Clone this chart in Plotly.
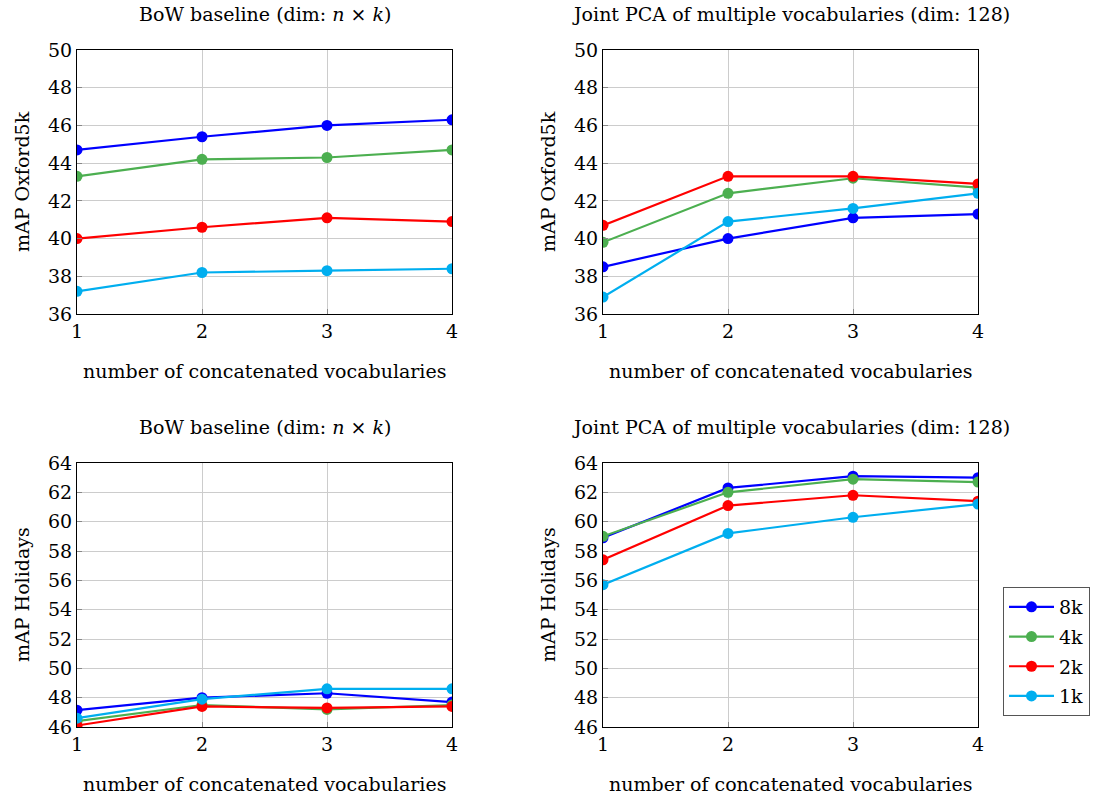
import plotly.graph_objects as go

x_vals = [1, 2, 3, 4]
series_names = ["8k", "4k", "2k", "1k"]
colors = ["#0000FF", "#4CAF50", "#FF0000", "#00AEEF"]

# Top-left: BoW baseline, Oxford5k
oxf_bow = {
    "8k": [44.7, 45.4, 46.0, 46.3],
    "4k": [43.3, 44.2, 44.3, 44.7],
    "2k": [40.0, 40.6, 41.1, 40.9],
    "1k": [37.2, 38.2, 38.3, 38.4],
}
# Top-right: Joint PCA, Oxford5k
oxf_pca = {
    "8k": [38.5, 40.0, 41.1, 41.3],
    "4k": [39.8, 42.4, 43.2, 42.7],
    "2k": [40.7, 43.3, 43.3, 42.9],
    "1k": [36.9, 40.9, 41.6, 42.4],
}
# Bottom-left: BoW baseline, Holidays
hol_bow = {
    "8k": [47.15, 48.0, 48.3, 47.7],
    "4k": [46.4, 47.5, 47.2, 47.5],
    "2k": [46.1, 47.4, 47.3, 47.4],
    "1k": [46.6, 47.9, 48.6, 48.6],
}
# Bottom-right: Joint PCA, Holidays
hol_pca = {
    "8k": [58.9, 62.3, 63.1, 63.0],
    "4k": [59.0, 62.0, 62.9, 62.7],
    "2k": [57.4, 61.1, 61.8, 61.4],
    "1k": [55.7, 59.2, 60.3, 61.2],
}

panel_titles = [
    "BoW baseline (dim: <i>n</i> × <i>k</i>)",
    "Joint PCA of multiple vocabularies (dim: 128)",
    "BoW baseline (dim: <i>n</i> × <i>k</i>)",
    "Joint PCA of multiple vocabularies (dim: 128)",
]
y_titles = ["mAP Oxford5k", "mAP Oxford5k", "mAP Holidays", "mAP Holidays"]
x_title = "number of concatenated vocabularies"
oxf_ticks = [36, 38, 40, 42, 44, 46, 48, 50]
hol_ticks = [46, 48, 50, 52, 54, 56, 58, 60, 62, 64]

W, H = 1103, 794
FONT = "DejaVu Serif"
FS = 19

def px_x(p):
    return p / W

def px_y(p):
    return 1 - p / H

panels = [
    (oxf_bow, (77, 452), (50, 314), oxf_ticks),
    (oxf_pca, (603, 978), (50, 314), oxf_ticks),
    (hol_bow, (77, 452), (463, 727), hol_ticks),
    (hol_pca, (603, 978), (463, 727), hol_ticks),
]

fig = go.Figure()
layout = {}
annotations = []
for i, (data, (xl, xr), (yt, yb), yticks) in enumerate(panels):
    n = i + 1
    xa = "x" if n == 1 else f"x{n}"
    ya = "y" if n == 1 else f"y{n}"
    for name, col in zip(series_names, colors):
        fig.add_trace(go.Scatter(
            x=x_vals, y=data[name], mode="lines+markers", name=name,
            line=dict(color=col, width=2.2), marker=dict(color=col, size=11),
            xaxis=xa, yaxis=ya, showlegend=(n == 4), legendgroup=name,
        ))
    common = dict(showline=True, mirror=True, linecolor="black", linewidth=1,
                  showgrid=True, gridcolor="#cccccc", gridwidth=1,
                  ticks="inside", ticklen=5, tickcolor="#888888", zeroline=False,
                  automargin=False,
                  tickfont=dict(family=FONT, size=FS, color="black"))
    layout["xaxis" if n == 1 else f"xaxis{n}"] = dict(
        domain=[px_x(xl), px_x(xr)], anchor=ya, range=[1, 4],
        tickvals=x_vals, **common)
    layout["yaxis" if n == 1 else f"yaxis{n}"] = dict(
        domain=[px_y(yb), px_y(yt)], anchor=xa, range=[yticks[0], yticks[-1]],
        tickvals=yticks, **common)
    cx = (xl + xr) / 2
    annotations.append(dict(text=panel_titles[i], x=px_x(cx), y=px_y(yt - 36),
                            xref="paper", yref="paper", showarrow=False,
                            xanchor="center", yanchor="middle",
                            font=dict(family=FONT, size=FS, color="black")))
    annotations.append(dict(text=x_title, x=px_x(cx), y=px_y(yb + 57),
                            xref="paper", yref="paper", showarrow=False,
                            xanchor="center", yanchor="middle",
                            font=dict(family=FONT, size=FS, color="black")))
    annotations.append(dict(text=y_titles[i], x=px_x(xl - 55), y=px_y((yt + yb) / 2),
                            xref="paper", yref="paper", showarrow=False, textangle=-90,
                            xanchor="center", yanchor="middle",
                            font=dict(family=FONT, size=FS, color="black")))

fig.update_layout(
    width=W, height=H, margin=dict(l=0, r=0, t=0, b=0, autoexpand=False),
    plot_bgcolor="white", paper_bgcolor="white",
    annotations=annotations,
    legend=dict(x=px_x(1003), y=px_y(587), xanchor="left", yanchor="top",
                xref="paper", yref="paper", traceorder="grouped",
                bordercolor="#555555", borderwidth=1, bgcolor="white",
                font=dict(family=FONT, size=FS, color="black"),
                tracegroupgap=2, itemwidth=45),
    **layout,
)
fig.write_html("out.html", config={"displayModeBar": False},
               post_script="document.body.style.margin='0';document.body.style.overflow='hidden';")
